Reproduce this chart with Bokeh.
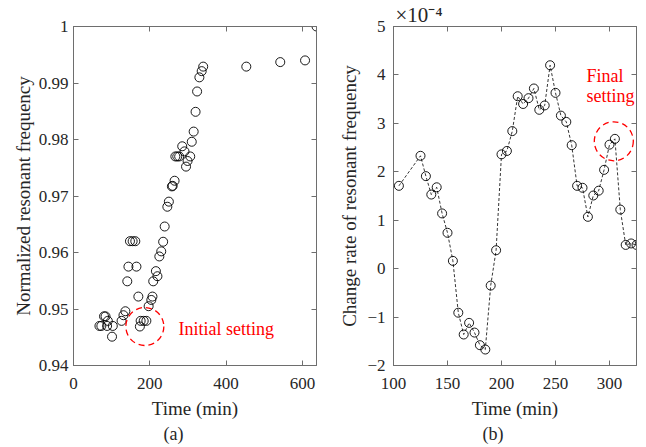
from bokeh.plotting import figure
from bokeh.models import LinearAxis, Range1d, Label, FixedTicker, CustomJSTickFormatter, Title
from bokeh.layouts import row
from bokeh.embed import file_html
from bokeh.resources import INLINE

FONT = "Liberation Serif"
AX = "#6e6e6e"
TXT = "#262626"

# ---- panel (a): normalized resonant frequency ----
t_a = [68, 73, 80, 84, 88, 90, 101, 103,
       126, 131, 136, 141, 144, 148, 155, 162,
       165, 170, 174, 176, 184, 191, 197, 204,
       207, 209, 216, 220, 225, 230, 235, 239,
       246, 250, 258, 260, 265, 267, 272, 277,
       285, 291, 295, 299, 306, 310, 315, 320,
       324, 330, 336, 340, 453, 542, 607, 637]
f_a = [0.9470, 0.9470, 0.9487, 0.9487, 0.9470, 0.9479, 0.9451, 0.9470,
       0.9479, 0.9489, 0.9496, 0.9549, 0.9575, 0.9620, 0.9620, 0.9620,
       0.9575, 0.9522, 0.9469, 0.9479, 0.9479, 0.9479, 0.9505, 0.9516,
       0.9522, 0.9549, 0.9567, 0.9558, 0.9593, 0.9602, 0.9619, 0.9646,
       0.9681, 0.9690, 0.9717, 0.9718, 0.9727, 0.9770, 0.9770, 0.9770,
       0.9788, 0.9779, 0.9752, 0.9762, 0.9770, 0.9796, 0.9814, 0.9849,
       0.9885, 0.9910, 0.9921, 0.9929, 0.9929, 0.9937, 0.9940, 1.0000]
xticks_a = [0, 200, 400, 600]
yticks_a = [0.94, 0.95, 0.96, 0.97, 0.98, 0.99, 1.0]
init_x = [187]
init_y = [0.9469]

# ---- panel (b): change rate (x 1e-4) ----
t_b = [105, 125, 130, 135, 140, 145, 150, 155, 160, 165, 170, 175, 180, 185,
       190, 195, 200, 205, 210, 215, 220, 225, 230, 235, 240, 245, 250, 255,
       260, 265, 270, 275, 280, 285, 290, 295, 300, 305, 310, 315, 320, 325]
r_b = [1.71, 2.33, 1.91, 1.53, 1.68, 1.14, 0.74, 0.16, -0.91, -1.36, -1.12, -1.32, -1.58, -1.67,
       -0.35, 0.38, 2.36, 2.43, 2.84, 3.56, 3.40, 3.52, 3.72, 3.28, 3.37, 4.20, 3.63, 3.16,
       3.03, 2.55, 1.71, 1.67, 1.07, 1.51, 1.61, 2.04, 2.56, 2.68, 1.22, 0.49, 0.52, 0.49]
xticks_b = [100, 150, 200, 250, 300]
yticks_b = [-2, -1, 0, 1, 2, 3, 4, 5]
final_x = [304]
final_y = [2.63]

BLANK = CustomJSTickFormatter(code="return '';")


def style(p, xticks, yticks, xlabel, ylabel, ystandoff, ylstandoff, yfmt=None):
    p.xgrid.visible = False
    p.ygrid.visible = False
    p.outline_line_color = AX
    p.outline_line_width = 1
    p.background_fill_color = "white"
    p.border_fill_color = "white"
    xa = p.below[0]
    ya = p.left[0]
    for ax in (xa, ya):
        ax.axis_line_color = AX
        ax.major_tick_line_color = AX
        ax.major_tick_in = 5
        ax.major_tick_out = 0
        ax.minor_tick_line_color = None
        ax.major_label_text_font = FONT
        ax.major_label_text_font_size = "17px"
        ax.major_label_text_color = TXT
        ax.axis_label_text_font = FONT
        ax.axis_label_text_font_size = "19px"
        ax.axis_label_text_font_style = "normal"
        ax.axis_label_text_color = TXT
    xa.ticker = FixedTicker(ticks=xticks)
    ya.ticker = FixedTicker(ticks=yticks)
    xa.major_label_standoff = 12
    ya.major_label_standoff = ystandoff
    xa.axis_label_standoff = 6
    ya.axis_label_standoff = ylstandoff
    xa.axis_label = xlabel
    ya.axis_label = ylabel
    if yfmt is not None:
        ya.formatter = yfmt
    top = LinearAxis(ticker=FixedTicker(ticks=xticks), formatter=BLANK)
    right = LinearAxis(ticker=FixedTicker(ticks=yticks), formatter=BLANK)
    for ax in (top, right):
        ax.axis_line_color = AX
        ax.major_tick_line_color = AX
        ax.major_tick_in = 5
        ax.major_tick_out = 0
        ax.minor_tick_line_color = None
        ax.major_label_text_font_size = "0px"
        ax.major_label_standoff = 0
    p.add_layout(top, "above")
    p.add_layout(right, "right")


def caption(p, text, offset, place, size="18px", standoff=0):
    t = Title(text=text, align="left", offset=offset, text_font=FONT, text_font_size=size,
              text_font_style="normal", text_color=TXT, standoff=standoff)
    p.add_layout(t, place)


H = 447

# panel a
pa = figure(width=335, height=H, output_backend="svg", toolbar_location=None,
            x_range=Range1d(0, 637), y_range=Range1d(0.94, 1.0),
            min_border_left=73, min_border_right=19, min_border_top=24, min_border_bottom=82)
style(pa, xticks_a, yticks_a, "Time (min)", "Normalized resonant frequency", 5, 2,
      CustomJSTickFormatter(code="return Number(tick.toFixed(2)).toString();"))
pa.scatter(t_a, f_a, marker="circle", size=9, fill_color=None, line_color="black", line_width=0.9)
pa.scatter(init_x, init_y, marker="circle", size=38, fill_color=None, line_color="red",
           line_width=1.3, line_dash="6 4")
pa.add_layout(Label(x=275, y=0.94645, text="Initial setting", text_color="red",
                    text_font=FONT, text_font_size="18px", text_baseline="middle"))
caption(pa, "(a)", 90, "below")

# panel b
pb = figure(width=310, height=H, output_backend="svg", toolbar_location=None,
            x_range=Range1d(100, 325), y_range=Range1d(-2, 5),
            min_border_left=58, min_border_right=9, min_border_top=24, min_border_bottom=82)
style(pb, xticks_b, yticks_b, "Time (min)", "Change rate of resonant frequency", 8, 4)
pb.line(t_b, r_b, line_color="black", line_width=0.8, line_dash="3 2")
pb.scatter(t_b, r_b, marker="circle", size=9, fill_color=None, line_color="black", line_width=0.9)
pb.scatter(final_x, final_y, marker="circle", size=39, fill_color=None, line_color="red",
           line_width=1.3, line_dash="6 4")
pb.add_layout(Label(x=278.7, y=3.98, text="Final", text_color="red",
                    text_font=FONT, text_font_size="18px", text_baseline="middle"))
pb.add_layout(Label(x=278.7, y=3.57, text="setting", text_color="red",
                    text_font=FONT, text_font_size="18px", text_baseline="middle"))
caption(pb, "\u00d710\u207b\u2074", 2, "above", size="21px")
caption(pb, "(b)", 89, "below")

layout = row(pa, pb)
open("out.html", "w").write(file_html(layout, INLINE))
